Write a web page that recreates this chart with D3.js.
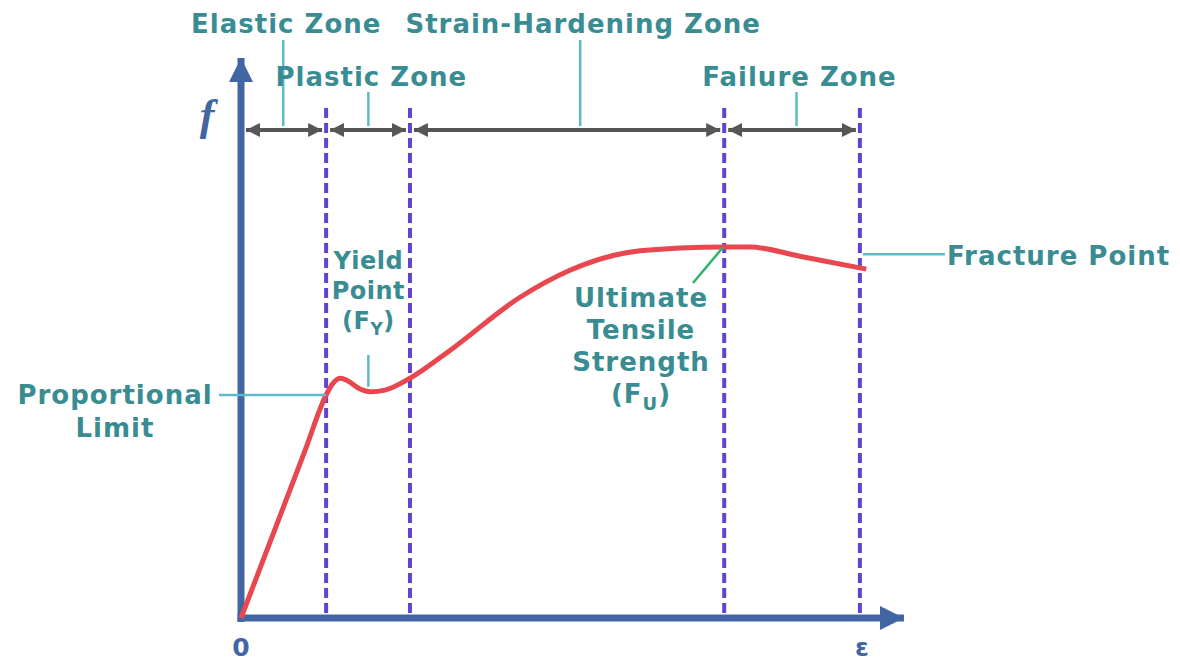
<!DOCTYPE html>
<html>
<head>
<meta charset="utf-8">
<script src="https://cdn.jsdelivr.net/npm/d3@7"></script>
<style>
  body { margin: 0; background: #fff; }
  .lbl { font-family: "DejaVu Sans", sans-serif; font-weight: bold; fill: #398c92; letter-spacing: 1px; }
</style>
</head>
<body>
<div id="chart"></div>
<script>
// stress-strain diagram, values
const svgWidth = 1180;
const svgHeight = 663;

// curve points: strain (0-100) and stress (0-100), arbitrary units
const strain = [0, 5, 10, 13.3, 14.4, 15.5, 16.7, 18.6, 20.2, 22.5, 26.4, 32.7, 43.6, 51.4, 60, 68.6, 75.5, 79.5, 87.3, 97.7];
const stress = [0, 15.5, 31, 41.3, 43.5, 44.4, 43.9, 42.4, 41.9, 42.2, 44.4, 49.6, 59.4, 64.4, 67.6, 68.5, 68.7, 68.7, 67, 64.6];

// zones
const zoneNames = ["Elastic Zone", "Plastic Zone", "Strain-Hardening Zone", "Failure Zone"];
const zoneEdges = [0, 13.3, 26.4, 75.5, 96.7];
const zoneLabelAt = [6.6, 19.9, 53, 86.8];

// named points on the curve
const propLimit = { strain: 13.3, stress: 41.3 };
const yieldPoint = { strain: 19.9, stress: 41.9 };
const ultimate = { strain: 75.5, stress: 68.7 };
const fracture = { strain: 96.7, stress: 64.6 };

const axisLabels = { x: "ε", y: "f", origin: "0" };

const x = d3.scaleLinear().domain([0, 100]).range([241, 881]);
const y = d3.scaleLinear().domain([0, 100]).range([618, 78]);

const svg = d3.select("#chart")
    .append("svg")
    .attr("width", svgWidth)
    .attr("height", svgHeight)
    .style("display", "block");

const defs = svg.append("defs");
function marker(id, color, w, h) {
    defs.append("marker")
        .attr("id", id)
        .attr("viewBox", `0 0 ${w} ${h}`)
        .attr("refX", w).attr("refY", h / 2)
        .attr("markerWidth", w).attr("markerHeight", h)
        .attr("markerUnits", "userSpaceOnUse")
        .attr("orient", "auto-start-reverse")
        .append("path")
        .attr("d", `M0,0 L${w},${h / 2} L0,${h} Z`)
        .attr("fill", color);
}
marker("grayArrow", "#565656", 14, 14);
marker("axisArrow", "#4266a3", 24, 24);

const leader = "#5cbac6";

// dashed zone boundaries
svg.selectAll(".bound")
    .data(zoneEdges.slice(1))
    .enter().append("line")
    .attr("x1", d => x(d)).attr("x2", d => x(d))
    .attr("y1", 108).attr("y2", y(0))
    .attr("stroke", "#6243cf")
    .attr("stroke-width", 4)
    .attr("stroke-dasharray", "10,5");

// double arrows between the boundaries
const spans = zoneNames.map((n, i) => ({ name: n, a: zoneEdges[i], b: zoneEdges[i + 1], at: zoneLabelAt[i], row: i % 2 }));
svg.selectAll(".span")
    .data(spans)
    .enter().append("line")
    .attr("x1", d => x(d.a) + (d.a == 0 ? 5 : 4))
    .attr("x2", d => x(d.b) - 4)
    .attr("y1", 130).attr("y2", 130)
    .attr("stroke", "#565656")
    .attr("stroke-width", 4)
    .attr("marker-start", "url(#grayArrow)")
    .attr("marker-end", "url(#grayArrow)");

// zone leaders + labels
svg.selectAll(".zl")
    .data(spans)
    .enter().append("line")
    .attr("x1", d => x(d.at)).attr("x2", d => x(d.at))
    .attr("y1", d => d.row ? 92 : 40)
    .attr("y2", 126)
    .attr("stroke", leader)
    .attr("stroke-width", 2.5);

svg.selectAll(".zt")
    .data(spans)
    .enter().append("text")
    .attr("class", "lbl")
    .attr("x", d => x(d.at) + 3)
    .attr("y", d => d.row ? 86 : 33)
    .attr("text-anchor", "middle")
    .attr("font-size", 26)
    .text(d => d.name);

// axes
svg.append("line")
    .attr("x1", x(0)).attr("x2", x(0))
    .attr("y1", y(0) + 4).attr("y2", 58)
    .attr("stroke", "#4266a3").attr("stroke-width", 7)
    .attr("marker-end", "url(#axisArrow)");
svg.append("line")
    .attr("x1", x(0) - 3.5).attr("x2", 904)
    .attr("y1", y(0)).attr("y2", y(0))
    .attr("stroke", "#4266a3").attr("stroke-width", 7)
    .attr("marker-end", "url(#axisArrow)");

svg.append("text")
    .attr("x", 207).attr("y", 130)
    .attr("text-anchor", "middle")
    .attr("font-family", "Liberation Serif")
    .attr("font-style", "italic").attr("font-weight", "bold")
    .attr("font-size", 44)
    .attr("fill", "#4266a3")
    .text(axisLabels.y);
svg.append("text")
    .attr("x", x(0)).attr("y", 656)
    .attr("text-anchor", "middle")
    .attr("font-family", "DejaVu Sans").attr("font-weight", "bold")
    .attr("font-size", 25)
    .attr("fill", "#4266a3")
    .text(axisLabels.origin);
svg.append("text")
    .attr("x", 862).attr("y", 656)
    .attr("text-anchor", "middle")
    .attr("font-family", "DejaVu Sans").attr("font-weight", "bold")
    .attr("font-size", 25)
    .attr("fill", "#4266a3")
    .text(axisLabels.x);

// the curve
const pts = strain.map((s, i) => [s, stress[i]]);
svg.append("path")
    .datum(pts)
    .attr("fill", "none")
    .attr("stroke", "#e9474f")
    .attr("stroke-width", 5)
    .attr("d", d3.line().x(d => x(d[0])).y(d => y(d[1])).curve(d3.curveMonotoneX));

// proportional limit
svg.append("line")
    .attr("x1", 219).attr("x2", x(propLimit.strain))
    .attr("y1", y(propLimit.stress)).attr("y2", y(propLimit.stress))
    .attr("stroke", leader).attr("stroke-width", 2.5);
svg.append("text").attr("class", "lbl")
    .attr("x", 115).attr("y", 404)
    .attr("text-anchor", "middle").attr("font-size", 26)
    .text("Proportional");
svg.append("text").attr("class", "lbl")
    .attr("x", 115).attr("y", 437)
    .attr("text-anchor", "middle").attr("font-size", 26)
    .text("Limit");

// yield point
svg.append("line")
    .attr("x1", x(yieldPoint.strain)).attr("x2", x(yieldPoint.strain))
    .attr("y1", 355).attr("y2", y(yieldPoint.stress) - 5)
    .attr("stroke", leader).attr("stroke-width", 2.5);
const yx = x(yieldPoint.strain);
[["Yield", 269], ["Point", 299]].forEach(t => {
    svg.append("text").attr("class", "lbl")
        .attr("x", yx).attr("y", t[1])
        .attr("text-anchor", "middle").attr("font-size", 24)
        .style("letter-spacing", "0.5px")
        .text(t[0]);
});
const fy = svg.append("text").attr("class", "lbl")
    .attr("x", yx).attr("y", 329)
    .attr("text-anchor", "middle").attr("font-size", 24)
    .style("letter-spacing", "0.5px");
fy.append("tspan").text("(F");
fy.append("tspan").attr("font-size", 17).attr("dy", 6).text("Y");
fy.append("tspan").attr("dy", -6).text(")");

// ultimate tensile strength
svg.append("line")
    .attr("x1", x(ultimate.strain) - 1).attr("x2", 693)
    .attr("y1", y(ultimate.stress)).attr("y2", 283)
    .attr("stroke", "#2fb36b").attr("stroke-width", 2.5);
[["Ultimate", 307], ["Tensile", 339], ["Strength", 371]].forEach(t => {
    svg.append("text").attr("class", "lbl")
        .attr("x", 641).attr("y", t[1])
        .attr("text-anchor", "middle").attr("font-size", 26)
        .text(t[0]);
});
const fu = svg.append("text").attr("class", "lbl")
    .attr("x", 641).attr("y", 403)
    .attr("text-anchor", "middle").attr("font-size", 26);
fu.append("tspan").text("(F");
fu.append("tspan").attr("font-size", 18).attr("dy", 7).text("U");
fu.append("tspan").attr("dy", -7).text(")");

// fracture point
svg.append("line")
    .attr("x1", x(fracture.strain) + 3).attr("x2", 945)
    .attr("y1", y(fracture.stress) - 15).attr("y2", y(fracture.stress) - 15)
    .attr("stroke", leader).attr("stroke-width", 2.5);
svg.append("text").attr("class", "lbl")
    .attr("x", 947).attr("y", 265)
    .attr("font-size", 26)
    .text("Fracture Point");
</script>
</body>
</html>
